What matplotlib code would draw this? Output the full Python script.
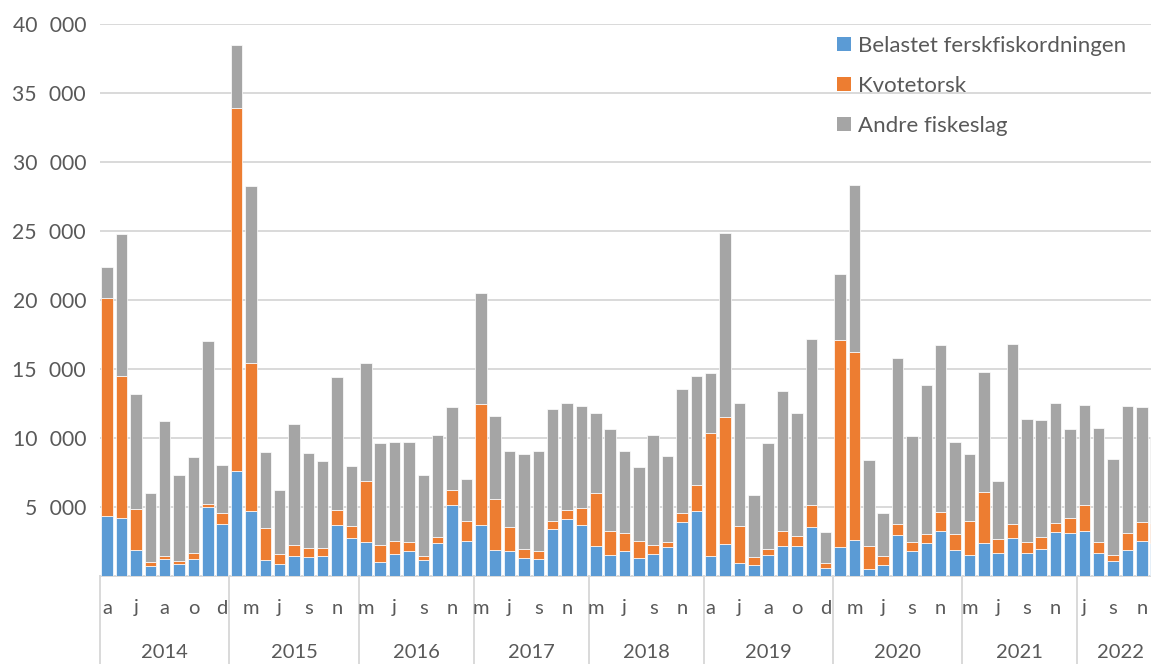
import matplotlib
matplotlib.use("Agg")
import matplotlib.pyplot as plt
from matplotlib.patches import Patch
from matplotlib.transforms import blended_transform_factory
import numpy as np

plt.rcParams['font.family'] = ['Lato', 'DejaVu Sans']

# Month initials (Norwegian) of the months present in each year
years = ['2014', '2015', '2016', '2017', '2018', '2019', '2020', '2021', '2022']
year_months = ['amjjasond', 'amjjasond', 'mjjasond', 'mjjasond', 'mjjasond',
               'amjjasond', 'amjjasond', 'mjjasond', 'jasond']

series_names = ['Belastet ferskfiskordningen', 'Kvotetorsk', 'Andre fiskeslag']

belastet = [4360, 4200, 1850, 720, 1260, 880, 1260, 5000, 3800,
            7600, 4730, 1160, 840, 1450, 1400, 1420, 3670, 2770,
            2460, 1010, 1600, 1820, 1160, 2410, 5180, 2530,
            3710, 1880, 1830, 1320, 1200, 3420, 4140, 3730,
            2170, 1540, 1830, 1320, 1610, 2070, 3900, 4700,
            1420, 2310, 960, 810, 1550, 2200, 2200, 3570, 570,
            2100, 2640, 540, 830, 2950, 1810, 2360, 3250, 1880,
            1490, 2380, 1690, 2770, 1690, 1950, 3180, 3110,
            3280, 1690, 1080, 1850, 2550, 2400]

kvotetorsk = [15780, 10290, 3020, 270, 190, 190, 430, 210, 770,
              26300, 10670, 2330, 730, 830, 650, 600, 1140, 880,
              4450, 1220, 960, 630, 290, 430, 1030, 1440,
              8790, 3680, 1710, 650, 630, 580, 630, 1200,
              3850, 1730, 1300, 1210, 630, 410, 680, 1920,
              8960, 9200, 2630, 600, 390, 1090, 720, 1600, 360,
              15030, 13560, 1600, 620, 850, 620, 650, 1370, 1180,
              2500, 3710, 990, 1030, 790, 890, 670, 1060,
              1850, 790, 440, 1260, 1330, 1450]

andre = [2220, 10320, 8320, 5050, 9810, 6260, 6950, 11820, 3480,
         4550, 12860, 5530, 4670, 8720, 6880, 6290, 9620, 4290,
         8560, 7400, 7140, 7230, 5900, 7370, 6070, 3060,
         7990, 6050, 5510, 6860, 7200, 8090, 7780, 7370,
         5760, 7390, 5900, 5390, 7950, 6210, 8980, 7850,
         4310, 13370, 8980, 4470, 7710, 10140, 8900, 12000, 2250,
         4790, 12160, 6260, 3080, 12030, 7710, 10860, 12110, 6650,
         4840, 8670, 4170, 12980, 8890, 8500, 8720, 6500,
         7270, 8260, 6980, 9220, 8380, 6250]

y_ticks = [0, 5000, 10000, 15000, 20000, 25000, 30000, 35000, 40000]

colors = ['#5B9BD5', '#ED7D31', '#A5A5A5']
grid_col = '#D9D9D9'
text_col = '#595959'
fs = 14.5

W, H = 1151, 664
fig = plt.figure(figsize=(W / 100, H / 100), dpi=100)
step = 14.37
n = len(belastet)
ax = fig.add_axes([100 / W, (H - 576) / H, n * step / W, 552 / H])

x = np.arange(n)
b = np.array(belastet, dtype=float)
k = np.array(kvotetorsk, dtype=float)
a = np.array(andre, dtype=float)
bar_kw = dict(width=0.8, edgecolor='white', linewidth=0.5, zorder=3)
ax.bar(x, b, color=colors[0], **bar_kw)
ax.bar(x, k, bottom=b, color=colors[1], **bar_kw)
ax.bar(x, a, bottom=b + k, color=colors[2], **bar_kw)

ax.set_xlim(-0.5, n - 0.5)
ax.set_ylim(0, 40000)
ax.set_yticks(y_ticks)
ax.set_yticklabels(['' if v == 0 else f'{v:,}'.replace(',', '\u2007') for v in y_ticks])
ax.yaxis.grid(True, color=grid_col, linewidth=1.4, zorder=0)
ax.set_axisbelow(True)
ax.tick_params(axis='y', length=0, pad=10, labelsize=15.2, labelcolor=text_col)
ax.set_xticks([])
for s in ['top', 'right', 'left']:
    ax.spines[s].set_visible(False)
ax.spines['bottom'].set_color(grid_col)
ax.spines['bottom'].set_linewidth(1.4)

# Two-level category axis: month initials and year groups
tr = blended_transform_factory(ax.transData, ax.transAxes)
month_y = -(608 - 576) / 552
year_y = -(653 - 576) / 552
sep_bottom = -(664 - 576) / 552 - 0.01
idx = 0
for yr, months in zip(years, year_months):
    start = idx
    for m in months:
        if idx % 2 == 0:
            ax.text(idx, month_y, m, transform=tr, ha='center', va='center',
                    fontsize=fs, color=text_col)
        idx += 1
    ax.plot([start - 0.5, start - 0.5], [0, sep_bottom], transform=tr,
            color=grid_col, linewidth=1.4, clip_on=False)
    ax.text((start + idx - 1) / 2, year_y, yr, transform=tr, ha='center',
            va='center', fontsize=fs, color=text_col)

handles = [Patch(facecolor=c, edgecolor='none') for c in colors]
fig.legend(handles, series_names, loc='upper left',
           bbox_to_anchor=(837 / W, 1 - 36 / H), frameon=False,
           fontsize=16, labelcolor=text_col, handlelength=0.63,
           handleheight=0.63, handletextpad=0.3, labelspacing=0.9,
           borderpad=0, borderaxespad=0)

fig.savefig('out.png', dpi=100, facecolor='white')
